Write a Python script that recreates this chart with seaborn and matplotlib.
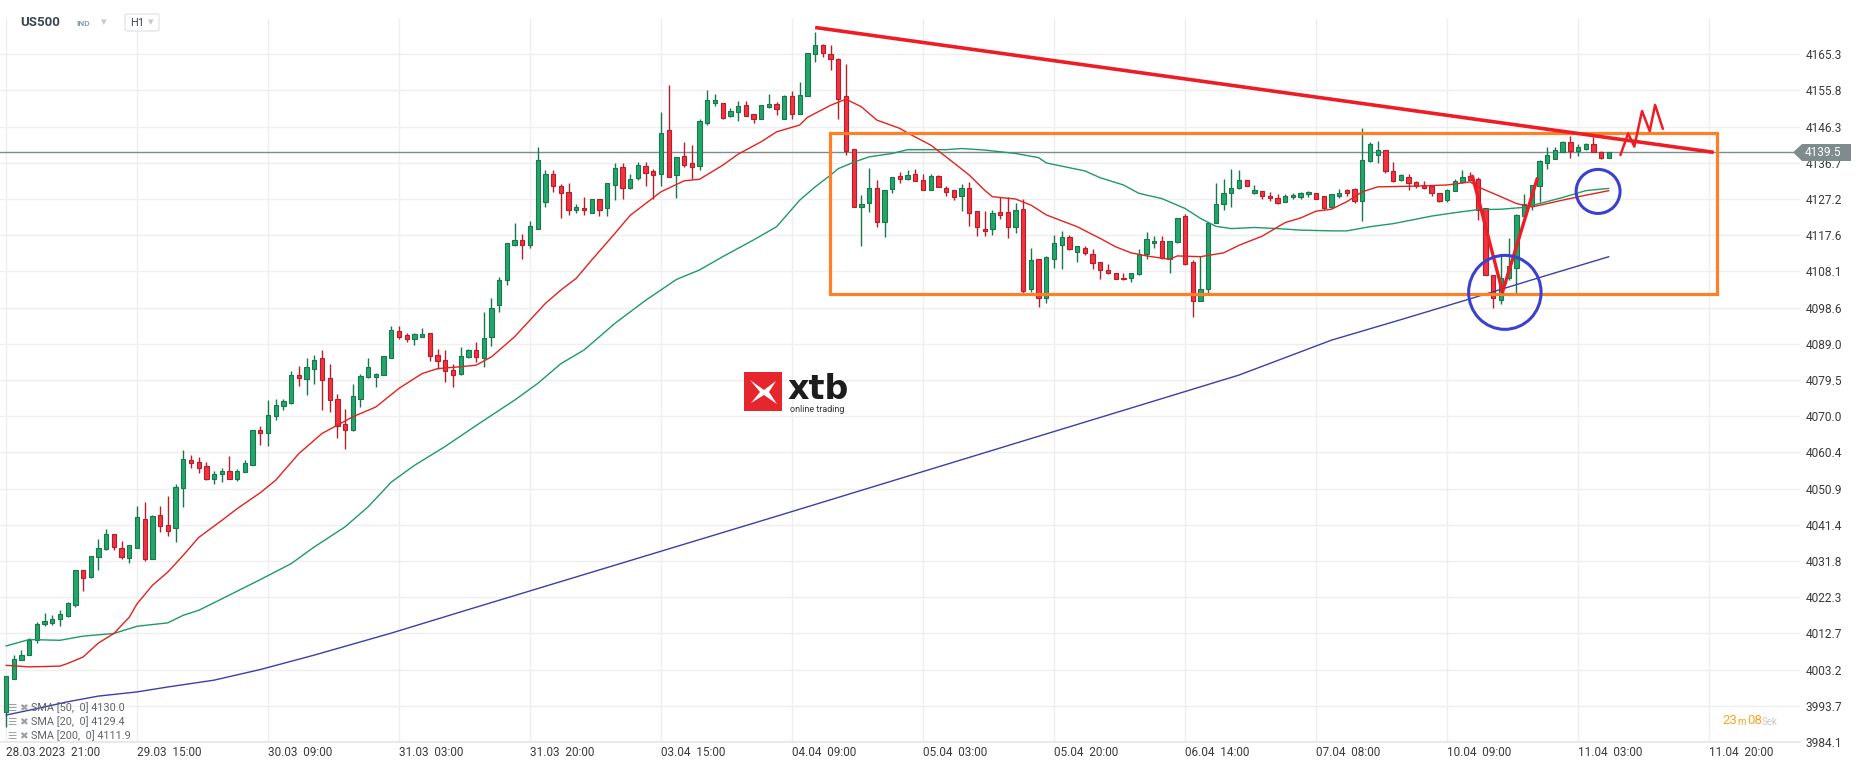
import numpy as np
import pandas as pd
import matplotlib
matplotlib.use("Agg")
import matplotlib.pyplot as plt
import seaborn as sns
from matplotlib.patches import Ellipse, Polygon, Rectangle, FancyBboxPatch

# --- hourly candles US500 (H1) ---
opens = [3992.0, 4000.6, 4005.8, 4006.9, 4010.9, 4015.3, 4015.5, 4016.6, 4017.3, 4020.2,
         4029.3, 4027.6, 4032.9, 4035.0, 4039.0, 4035.3, 4032.7, 4035.3, 4043.0, 4032.2,
         4044.0, 4041.4, 4040.4, 4051.1, 4058.5, 4057.9, 4056.8, 4053.3, 4054.6, 4055.6,
         4053.4, 4055.2, 4057.2, 4066.4, 4065.6, 4070.1, 4072.7, 4073.5, 4080.9, 4079.8,
         4082.4, 4085.4, 4079.9, 4074.4, 4067.8, 4066.4, 4074.6, 4080.3, 4080.3, 4080.9,
         4085.2, 4092.3, 4091.3, 4090.2, 4090.9, 4091.8, 4086.2, 4084.9, 4082.1, 4081.1,
         4085.6, 4087.4, 4085.4, 4090.9, 4099.2, 4105.8, 4115.0, 4116.3, 4115.2, 4119.4,
         4126.3, 4133.7, 4130.7, 4129.1, 4124.4, 4124.9, 4123.6, 4127.1, 4124.7, 4131.0,
         4135.7, 4130.0, 4132.8, 4135.9, 4134.5, 4133.7, 4145.5, 4133.4, 4138.5, 4136.6,
         4135.9, 4147.3, 4152.4, 4152.4, 4149.1, 4150.0, 4151.9, 4149.5, 4148.4, 4151.5,
         4152.2, 4148.4, 4154.3, 4149.7, 4154.3, 4165.4, 4167.8, 4165.4, 4164.1, 4154.3,
         4140.3, 4125.1, 4126.2, 4130.0, 4121.2, 4129.9, 4133.3, 4132.5, 4133.7, 4132.3,
         4129.7, 4133.2, 4130.2, 4129.5, 4128.0, 4130.2, 4124.0, 4119.4, 4119.2, 4123.7,
         4123.7, 4119.9, 4124.5, 4103.4, 4111.3, 4101.0, 4111.4, 4115.2, 4117.1, 4113.3,
         4114.4, 4112.8, 4110.6, 4108.6, 4107.8, 4106.5, 4106.5, 4107.4, 4112.6, 4115.6,
         4116.2, 4111.4, 4115.9, 4122.7, 4110.5, 4100.4, 4103.6, 4120.9, 4126.0, 4128.7,
         4130.0, 4132.2, 4128.7, 4129.4, 4128.0, 4127.4, 4126.3, 4127.6, 4127.8, 4128.4,
         4128.9, 4128.0, 4125.0, 4128.0, 4129.5, 4129.8, 4126.6, 4137.2, 4138.8, 4140.2,
         4134.6, 4132.1, 4133.0, 4131.6, 4131.0, 4130.7, 4128.7, 4126.9, 4129.4, 4131.6,
         4133.2, 4132.6, 4124.7, 4107.1, 4100.7, 4106.3, 4108.9, 4122.7, 4125.6, 4130.6,
         4136.7, 4137.8, 4139.6, 4142.1, 4139.9, 4140.3, 4141.8, 4139.6, 4138.1]
highs = [4001.6, 4007.1, 4008.3, 4011.4, 4015.8, 4018.1, 4017.5, 4019.0, 4021.0, 4029.3,
         4029.3, 4033.2, 4037.5, 4040.2, 4039.0, 4037.0, 4036.0, 4046.2, 4047.4, 4043.9,
         4046.2, 4048.9, 4052.0, 4061.0, 4059.7, 4059.1, 4057.9, 4055.6, 4056.4, 4059.5,
         4056.1, 4058.5, 4066.3, 4067.3, 4074.2, 4074.6, 4074.6, 4081.8, 4083.1, 4085.2,
         4086.0, 4087.4, 4083.8, 4075.9, 4071.8, 4078.4, 4081.0, 4085.4, 4081.3, 4085.9,
         4093.7, 4093.7, 4092.0, 4091.8, 4093.1, 4092.0, 4087.6, 4087.4, 4083.8, 4088.1,
         4087.8, 4089.4, 4097.5, 4101.0, 4106.7, 4115.7, 4121.0, 4117.9, 4121.4, 4140.8,
         4134.8, 4134.8, 4131.1, 4131.3, 4126.0, 4127.8, 4127.1, 4127.1, 4131.3, 4136.7,
         4136.7, 4133.7, 4137.0, 4137.0, 4135.0, 4150.2, 4157.2, 4138.3, 4142.3, 4141.4,
         4148.4, 4155.9, 4155.0, 4152.4, 4151.1, 4153.0, 4153.0, 4149.7, 4152.1, 4154.8,
         4152.7, 4154.6, 4155.6, 4158.1, 4165.8, 4171.3, 4168.0, 4167.8, 4164.3, 4162.9,
         4140.3, 4128.2, 4135.5, 4132.2, 4129.7, 4133.0, 4134.4, 4134.8, 4135.2, 4133.9,
         4133.9, 4133.5, 4130.6, 4129.7, 4131.1, 4131.6, 4124.0, 4124.0, 4124.3, 4127.8,
         4127.8, 4126.2, 4127.1, 4114.4, 4111.3, 4112.1, 4117.8, 4118.7, 4117.7, 4114.9,
         4114.8, 4114.1, 4110.6, 4110.2, 4107.8, 4107.8, 4107.8, 4114.1, 4118.4, 4117.4,
         4117.4, 4116.2, 4122.3, 4123.2, 4111.1, 4112.2, 4121.2, 4131.3, 4132.4, 4135.0,
         4134.8, 4132.2, 4130.8, 4129.4, 4129.0, 4128.5, 4128.5, 4128.7, 4129.1, 4129.3,
         4128.9, 4128.0, 4128.5, 4129.8, 4129.8, 4130.2, 4145.8, 4142.1, 4142.5, 4140.2,
         4137.0, 4133.7, 4133.7, 4131.9, 4131.9, 4130.7, 4128.9, 4129.8, 4132.6, 4134.8,
         4134.2, 4132.9, 4124.7, 4107.1, 4112.8, 4117.0, 4123.2, 4128.6, 4130.9, 4137.4,
         4141.0, 4140.8, 4142.4, 4143.9, 4141.6, 4142.0, 4143.6, 4139.8, 4139.6]
lows = [3988.1, 4000.6, 4005.8, 4006.9, 4010.2, 4014.7, 4015.0, 4014.8, 4017.1, 4019.7,
        4023.9, 4027.4, 4029.5, 4034.8, 4034.8, 4032.4, 4031.3, 4035.3, 4031.8, 4032.2,
        4039.5, 4038.3, 4036.8, 4046.1, 4056.2, 4055.0, 4053.1, 4052.2, 4052.6, 4053.5,
        4052.9, 4055.2, 4057.2, 4062.3, 4062.1, 4068.9, 4071.6, 4073.3, 4077.9, 4075.5,
        4078.4, 4071.7, 4071.1, 4064.3, 4061.2, 4066.1, 4072.4, 4080.1, 4077.7, 4080.9,
        4085.2, 4090.4, 4089.6, 4088.7, 4090.9, 4084.6, 4082.5, 4079.0, 4077.7, 4080.9,
        4085.4, 4084.3, 4083.0, 4088.4, 4097.5, 4104.5, 4114.9, 4111.3, 4114.2, 4119.4,
        4125.1, 4129.1, 4122.2, 4122.9, 4123.4, 4123.1, 4123.6, 4122.7, 4122.8, 4126.9,
        4127.3, 4129.9, 4132.2, 4130.6, 4127.3, 4130.6, 4132.9, 4127.5, 4135.7, 4132.5,
        4134.8, 4146.8, 4151.8, 4148.3, 4148.9, 4147.8, 4149.0, 4147.3, 4148.3, 4151.3,
        4149.3, 4148.3, 4148.2, 4149.6, 4154.3, 4163.4, 4164.5, 4161.2, 4148.4, 4138.8,
        4125.1, 4114.8, 4123.8, 4119.9, 4117.2, 4128.8, 4131.3, 4132.2, 4131.9, 4129.5,
        4129.5, 4130.4, 4127.9, 4126.9, 4124.1, 4120.1, 4117.4, 4117.4, 4117.7, 4121.9,
        4116.8, 4118.3, 4102.5, 4102.7, 4098.8, 4099.8, 4108.9, 4108.7, 4113.7, 4110.7,
        4112.4, 4108.7, 4106.1, 4107.4, 4106.2, 4105.8, 4105.4, 4107.1, 4111.3, 4114.3,
        4111.5, 4107.6, 4115.6, 4109.8, 4096.1, 4100.4, 4102.5, 4120.8, 4124.4, 4125.1,
        4129.9, 4130.6, 4128.4, 4127.3, 4126.7, 4125.9, 4126.3, 4127.3, 4127.3, 4127.6,
        4127.3, 4124.5, 4124.9, 4127.4, 4128.1, 4126.2, 4121.4, 4137.0, 4136.8, 4134.1,
        4131.7, 4131.9, 4129.5, 4130.2, 4129.9, 4128.0, 4126.5, 4126.5, 4129.4, 4131.5,
        4132.0, 4121.6, 4107.1, 4098.6, 4099.5, 4105.8, 4102.5, 4122.5, 4124.3, 4126.5,
        4135.1, 4137.7, 4139.5, 4138.1, 4138.6, 4140.2, 4139.5, 4137.7, 4138.0]
closes = [4001.4, 4006.0, 4007.1, 4010.9, 4015.3, 4015.9, 4016.6, 4017.9, 4020.7, 4029.3,
          4027.4, 4033.0, 4035.3, 4039.0, 4035.5, 4032.8, 4035.9, 4043.3, 4032.4, 4043.6,
          4041.1, 4039.8, 4051.3, 4058.8, 4057.5, 4056.4, 4053.3, 4054.8, 4055.4, 4053.5,
          4055.6, 4057.7, 4066.3, 4065.6, 4070.4, 4073.0, 4073.9, 4080.9, 4080.1, 4082.8,
          4084.9, 4079.4, 4074.1, 4067.4, 4066.4, 4075.4, 4080.5, 4082.8, 4081.2, 4085.9,
          4092.8, 4090.9, 4090.2, 4091.6, 4091.5, 4085.9, 4084.6, 4081.9, 4080.9, 4085.95,
          4087.4, 4085.6, 4090.7, 4098.6, 4105.8, 4115.7, 4116.3, 4115.0, 4120.0, 4137.4,
          4133.7, 4130.7, 4128.9, 4124.4, 4125.0, 4124.2, 4127.1, 4124.4, 4131.3, 4135.5,
          4130.0, 4132.6, 4136.1, 4134.1, 4133.4, 4144.5, 4132.9, 4138.3, 4136.1, 4135.7,
          4147.7, 4153.3, 4153.4, 4148.6, 4150.4, 4151.7, 4149.1, 4148.2, 4151.9, 4152.2,
          4150.8, 4154.3, 4149.7, 4154.6, 4165.8, 4167.9, 4165.6, 4164.1, 4153.5, 4139.9,
          4125.1, 4125.8, 4130.0, 4121.2, 4129.7, 4132.9, 4132.5, 4133.4, 4132.0, 4129.7,
          4133.2, 4130.4, 4129.1, 4127.8, 4130.2, 4123.4, 4119.7, 4118.8, 4123.6, 4123.0,
          4119.7, 4124.3, 4103.0, 4111.0, 4101.2, 4111.9, 4115.7, 4117.1, 4113.9, 4114.9,
          4113.0, 4110.4, 4108.6, 4107.6, 4106.2, 4106.0, 4107.8, 4112.8, 4116.6, 4116.2,
          4111.7, 4116.2, 4122.3, 4110.0, 4100.4, 4103.6, 4120.9, 4126.0, 4128.7, 4130.2,
          4132.3, 4130.6, 4129.7, 4128.0, 4127.4, 4126.2, 4128.1, 4128.2, 4128.7, 4129.0,
          4127.3, 4124.9, 4128.4, 4128.9, 4128.9, 4126.7, 4137.4, 4141.7, 4140.2, 4134.6,
          4131.9, 4133.5, 4131.3, 4130.7, 4130.0, 4128.7, 4126.7, 4129.7, 4131.9, 4133.0,
          4132.2, 4124.4, 4107.1, 4101.0, 4106.3, 4109.5, 4123.0, 4126.0, 4130.9, 4137.3,
          4138.7, 4140.1, 4142.1, 4139.9, 4140.8, 4141.6, 4139.6, 4137.9, 4139.5]

# moving averages as drawn by the platform (candle index -> value)
sma20_at = [0, 3, 7, 8, 10, 12, 14, 16, 17, 19, 21, 23, 25, 28, 30, 33, 35, 38, 41, 43,
            45, 48, 51, 54, 56, 59, 61, 63, 66, 68, 70, 72, 74, 76, 79, 81, 85, 88, 90, 93,
            95, 98, 100, 103, 104, 107, 109, 111, 113, 116, 117, 120, 122, 125, 127, 128,
            131, 133, 135, 139, 142, 144, 146, 148, 151, 152, 155, 158, 160, 163, 166, 168,
            170, 172, 174, 176, 178, 183, 187, 190, 191, 194, 196, 198, 200, 202, 205, 208]
sma20_val = [4004.3, 4003.9, 4004.1, 4004.8, 4006.5, 4010.2, 4012.7, 4017.0, 4020.5, 4025.4,
             4028.9, 4033.3, 4038.0, 4042.5, 4045.6, 4049.8, 4053.1, 4060.1, 4065.4, 4067.6,
             4069.8, 4072.4, 4077.3, 4081.2, 4082.5, 4083.0, 4083.4, 4085.6, 4090.9, 4095.3,
             4099.7, 4103.2, 4106.3, 4111.1, 4118.1, 4122.9, 4129.1, 4132.0, 4132.4, 4136.1,
             4139.0, 4142.3, 4144.9, 4146.7, 4148.7, 4151.9, 4153.5, 4151.5, 4148.0, 4145.8,
             4144.6, 4141.4, 4138.3, 4133.5, 4129.5, 4127.8, 4127.2, 4125.6, 4123.0, 4119.9,
             4116.8, 4114.6, 4113.0, 4112.2, 4111.3, 4112.2, 4112.0, 4113.0, 4115.0, 4117.4,
             4121.0, 4122.2, 4124.0, 4124.5, 4126.5, 4129.1, 4130.4, 4130.6, 4130.9, 4131.7,
             4130.4, 4127.8, 4126.0, 4125.1, 4126.0, 4126.9, 4128.2, 4129.4]
sma50_at = [0, 3, 7, 10, 14, 17, 21, 23, 25, 27, 33, 37, 40, 44, 47, 50, 53, 57, 61, 66,
            69, 72, 75, 79, 83, 87, 90, 93, 97, 100, 103, 105, 107, 108, 110, 112, 115, 117,
            122, 124, 127, 131, 134, 135, 140, 142, 145, 147, 150, 153, 155, 157, 159, 162,
            165, 168, 172, 174, 177, 180, 185, 188, 191, 194, 197, 199, 202, 205, 208]
sma50_val = [4009.4, 4011.1, 4010.9, 4012.0, 4012.7, 4014.6, 4015.5, 4017.5, 4018.8, 4020.8,
             4026.9, 4031.1, 4035.5, 4040.8, 4046.1, 4052.6, 4057.0, 4062.0, 4067.5, 4074.2,
             4078.6, 4083.8, 4087.4, 4094.4, 4100.5, 4106.0, 4108.5, 4112.0, 4116.4, 4119.9,
             4126.9, 4130.4, 4133.5, 4135.2, 4136.9, 4138.3, 4139.2, 4140.2, 4140.2, 4140.5,
             4140.1, 4139.2, 4138.1, 4136.7, 4134.6, 4132.8, 4130.9, 4128.7, 4127.3, 4124.7,
             4122.1, 4120.0, 4119.4, 4119.7, 4119.4, 4119.0, 4118.8, 4118.8, 4119.9, 4120.7,
             4122.7, 4123.6, 4124.4, 4124.5, 4125.0, 4126.0, 4127.6, 4129.4, 4130.0]
sma200_at = [0, 4, 8, 12, 17, 21, 27, 33, 40, 50, 60, 80, 100, 120, 140, 160, 172, 181,
             190, 199, 208]
sma200_val = [3991.2, 3992.9, 3994.7, 3996.2, 3997.3, 3998.6, 4000.4, 4003.2, 4007.0,
              4012.8, 4019.0, 4031.3, 4043.6, 4056.0, 4068.4, 4080.8, 4090.0, 4095.4,
              4100.9, 4106.5, 4112.0]

time_labels = ["28.03.2023  21:00", "29.03  15:00", "30.03  09:00", "31.03  03:00",
               "31.03  20:00", "03.04  15:00", "04.04  09:00", "05.04  03:00",
               "05.04  20:00", "06.04  14:00", "07.04  08:00", "10.04  09:00",
               "11.04  03:00", "11.04  20:00"]
candles_per_label = 17
price_ticks = [4165.3, 4155.8, 4146.3, 4136.7, 4127.2, 4117.6, 4108.1, 4098.6, 4089.0, 4079.5,
               4070.0, 4060.4, 4050.9, 4041.4, 4031.8, 4022.3, 4012.7, 4003.2, 3993.7, 3984.1]
last_price = 4139.5

# hand-drawn annotations (candle index, price)
trend_at, trend_val = [105.0, 221.6], [4172.4, 4139.5]
range_at, range_val = [106.9, 222.0], [4102.1, 4144.5]
v_at, v_val = [190.3, 194.2, 198.7], [4133.2, 4102.7, 4132.6]
zig_at = [209.5, 210.5, 211.3, 212.3, 213.3, 214.0, 215.0]
zig_val = [4138.8, 4144.5, 4141.0, 4150.4, 4145.1, 4152.0, 4145.7]
circle_at, circle_val = [194.5, 206.6], [4102.6, 4129.2]
circle_w, circle_h = [9.4, 5.7], [19.5, 11.6]

W, H = 1866, 767
GREEN, GREEN_EDGE = "#22a66c", "#18774b"
RED, RED_EDGE = "#f5323f", "#b41f2b"


def fx(x):
    return x / W


def fy(y):
    return 1 - y / H


sns.set_theme(style="white")
plt.rcParams["font.family"] = ["Roboto", "DejaVu Sans"]

fig = plt.figure(figsize=(W / 100, H / 100), dpi=100)
ax = fig.add_axes([0, 25 / H, 1800 / W, 724 / H])

df = pd.DataFrame({"o": opens, "h": highs, "l": lows, "c": closes})
df["i"] = np.arange(len(df))
up = df["c"] >= df["o"]

# candles
for mask, fill, edge in [(up, GREEN, GREEN_EDGE), (~up, RED, RED_EDGE)]:
    d = df[mask]
    ax.vlines(d["i"], d["l"], d["h"], color=edge, lw=1.0, zorder=2)
    body = (d["c"] - d["o"]).abs().clip(lower=0.25)
    ax.bar(d["i"], body, bottom=d[["o", "c"]].min(axis=1), width=0.56,
           color=fill, edgecolor=edge, linewidth=0.8, zorder=3)

# moving averages
sns.lineplot(x=sma200_at, y=sma200_val, ax=ax, color="#3b3fa6", lw=1.0, zorder=4)
sns.lineplot(x=sma50_at, y=sma50_val, ax=ax, color="#1f9a66", lw=1.0, zorder=4)
sns.lineplot(x=sma20_at, y=sma20_val, ax=ax, color="#e3221e", lw=1.0, zorder=4)

ax.axhline(last_price, color="#7e8c8d", lw=1.0, zorder=1.5)

# drawings
ax.add_patch(Rectangle((range_at[0], range_val[0]), range_at[1] - range_at[0],
                       range_val[1] - range_val[0], fill=False, edgecolor="#ff7f27",
                       lw=2.3, zorder=6))
ax.plot(trend_at, trend_val, color="#ee1c25", lw=2.6, zorder=7, solid_capstyle="butt")
ax.plot(v_at, v_val, color="#ee1c25", lw=2.4, zorder=7)
ax.plot(zig_at, zig_val, color="#ee1c25", lw=1.8, zorder=7)
for cx, cy, w, h in zip(circle_at, circle_val, circle_w, circle_h):
    ax.add_patch(Ellipse((cx, cy), w, h, fill=False, edgecolor="#3b40d0", lw=2.2, zorder=7))

# axes
n_lab = len(time_labels)
ax.set_xlim(-0.78, 232.8)
ax.set_ylim(3984.1, 4174.9)
ax.set_xticks(np.arange(n_lab) * candles_per_label)
ax.set_xticklabels(time_labels, ha="left", fontsize=8.5, color="#3a3a3a")
ax.set_yticks(price_ticks)
ax.set_yticklabels([f"{p:.1f}" for p in price_ticks], fontsize=8.6, color="#3a3a3a")
ax.yaxis.tick_right()
ax.tick_params(axis="y", length=0, pad=4)
ax.tick_params(axis="x", length=0, pad=3)
ax.grid(True, color="#efefef", lw=1.0, zorder=0)
ax.set_axisbelow(True)
for s in ["top", "right", "left"]:
    ax.spines[s].set_visible(False)
ax.spines["bottom"].set_color("#e6e6e6")
ax.set_xlabel("")
ax.set_ylabel("")

# last price marker on the scale
py = 152.3
fig.add_artist(Polygon([(fx(1793), fy(py)), (fx(1802), fy(144)), (fx(1851), fy(144)),
                        (fx(1851), fy(161)), (fx(1802), fy(161))],
                       closed=True, transform=fig.transFigure, facecolor="#7e8c8d",
                       edgecolor="none", zorder=10))
fig.text(fx(1805), fy(py), f"{last_price:.1f}", color="white", fontsize=8.6,
         va="center", ha="left", zorder=11)

# header
fig.text(fx(20), fy(23), "US500", fontsize=9.5, fontweight="bold", color="#3d4650", va="center")
fig.text(fx(76), fy(23), "IND", fontsize=6, fontweight="bold", color="#8e9ba6", va="center")
fig.text(fx(101), fy(22), "\u25be", fontsize=8, color="#c2c8cc", va="center")
fig.add_artist(FancyBboxPatch((fx(125), fy(31)), fx(34), 17 / H,
                              boxstyle="round,pad=0,rounding_size=0.002",
                              transform=fig.transFigure, facecolor="white",
                              edgecolor="#dcdfe2", lw=0.8, zorder=10))
fig.text(fx(130), fy(23), "H1", fontsize=8, color="#3d4650", va="center", zorder=11)
fig.text(fx(148), fy(22), "\u25be", fontsize=8, color="#c2c8cc", va="center", zorder=11)

# watermark
fig.add_artist(Rectangle((fx(744), fy(411)), fx(38), 39 / H, transform=fig.transFigure,
                         facecolor="#e5262c", edgecolor="none", zorder=5))
fig.add_artist(Polygon([(fx(750), fy(380)), (fx(764), fy(390)), (fx(776), fy(381)),
                        (fx(769), fy(392)), (fx(777), fy(404)), (fx(764), fy(395)),
                        (fx(751), fy(403)), (fx(760), fy(392))],
                       closed=True, transform=fig.transFigure, facecolor="white",
                       edgecolor="none", zorder=6))
fig.text(fx(788), fy(399), "xtb", fontsize=24, fontweight="bold", color="#1c1c1c",
         family="DejaVu Sans", va="baseline", ha="left", zorder=6)
fig.text(fx(790), fy(410), "online trading", fontsize=6.5, color="#333333",
         va="center", ha="left", zorder=6)

# indicator legend
legend_rows = ["SMA [50,  0] 4130.0", "SMA [20,  0] 4129.4", "SMA [200,  0] 4111.9"]
for k, txt in enumerate(legend_rows):
    yy = 708 + k * 14
    fig.text(fx(7), fy(yy), "\u2630", fontsize=7.5, color="#9aa0a4", va="center", zorder=11)
    fig.text(fx(19), fy(yy), "\u2716", fontsize=7.5, color="#9aa0a4", va="center", zorder=11)
    fig.text(fx(31), fy(yy), txt, fontsize=7.8, color="#5f6468", va="center", zorder=11)

# countdown
fig.text(fx(1722), fy(721), "23", fontsize=9.5, color="#f5a623", va="center", ha="left")
fig.text(fx(1737), fy(722), "m", fontsize=7, color="#f5a623", va="center", ha="left")
fig.text(fx(1747), fy(721), "08", fontsize=9.5, color="#f5a623", va="center", ha="left")
fig.text(fx(1762), fy(722), "Sek", fontsize=7, color="#c9c9c9", va="center", ha="left")

fig.savefig("out.png", dpi=100)
